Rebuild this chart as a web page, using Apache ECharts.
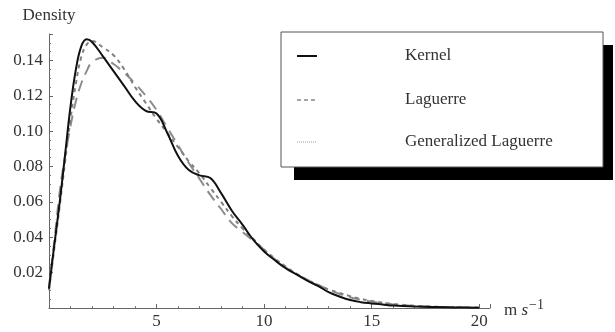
<!DOCTYPE html>
<html>
<head>
<meta charset="utf-8">
<script src="https://cdn.jsdelivr.net/npm/echarts@6/dist/echarts.min.js"></script>
<style>
  html, body { margin: 0; padding: 0; background: #fff; }
  #main { width: 615px; height: 332px; }
</style>
</head>
<body>
<div id="main"></div>
<script>
// wind speed (m/s) sample points, shared by all three curves
const speeds = [0, 0.25, 0.5, 0.75, 1, 1.25, 1.5, 1.75, 2, 2.5, 3, 3.5, 4, 4.5, 5, 5.5, 6, 6.5, 7, 7.5, 8, 8.5, 9, 9.5, 10, 10.5, 11, 11.5, 12, 12.5, 13, 13.5, 14, 14.5, 15, 15.5, 16, 17, 18, 19, 20]
// prettier-ignore
const kernel = [0.011, 0.036, 0.060, 0.087, 0.114, 0.135, 0.148, 0.152, 0.1505, 0.1425, 0.134, 0.1255, 0.117, 0.1115, 0.110, 0.099, 0.086, 0.078, 0.075, 0.0735, 0.065, 0.055, 0.047, 0.0385, 0.032, 0.027, 0.0225, 0.019, 0.0155, 0.0125, 0.009, 0.0065, 0.0045, 0.0033, 0.0026, 0.002, 0.0014, 0.0008, 0.0005, 0.0003, 0.0002]
// prettier-ignore
const laguerre = [0.012, 0.038, 0.066, 0.086, 0.103, 0.117, 0.127, 0.134, 0.139, 0.1415, 0.138, 0.133, 0.127, 0.120, 0.112, 0.102, 0.092, 0.082, 0.073, 0.064, 0.056, 0.048, 0.043, 0.038, 0.033, 0.0275, 0.023, 0.019, 0.016, 0.013, 0.0105, 0.008, 0.006, 0.0047, 0.0036, 0.0028, 0.002, 0.0011, 0.0006, 0.0003, 0.0001]
// prettier-ignore
const genLaguerre = [0.010, 0.034, 0.058, 0.083, 0.107, 0.127, 0.142, 0.149, 0.151, 0.1475, 0.143, 0.135, 0.125, 0.116, 0.107, 0.099, 0.091, 0.083, 0.076, 0.068, 0.060, 0.052, 0.045, 0.039, 0.033, 0.028, 0.0235, 0.0195, 0.016, 0.013, 0.0105, 0.0085, 0.0067, 0.0052, 0.004, 0.003, 0.0023, 0.0013, 0.0007, 0.0004, 0.0002]
const legendNames = ['Kernel', 'Laguerre', 'Generalized Laguerre']

const serif = 'Liberation Serif, Times New Roman, serif'
const pairs = (ys) => speeds.map((x, i) => [x, ys[i]])

const chart = echarts.init(document.getElementById('main'))

const option = {
  animation: false,
  grid: { left: 49, right: 125, top: 34, bottom: 24, containLabel: false },
  xAxis: {
    type: 'value',
    min: 0,
    max: 20.5,
    interval: 5,
    name: '{n|m }{s|s}{p|−1}',
    nameLocation: 'end',
    nameGap: 14,
    nameTextStyle: {
      rich: {
        n: { fontFamily: serif, fontSize: 17, color: '#333', padding: [6, 0, 0, 0] },
        s: { fontFamily: serif, fontSize: 17, fontStyle: 'italic', color: '#333', padding: [6, 0, 0, 0] },
        p: { fontFamily: serif, fontSize: 14, color: '#333', padding: [0, 0, 6, 1] }
      }
    },
    axisLine: { lineStyle: { color: '#666', width: 1 } },
    axisTick: { inside: true, length: 4, lineStyle: { color: '#666' } },
    minorTick: { show: true, splitNumber: 5, length: 2, lineStyle: { color: '#777' } },
    splitLine: { show: false },
    axisLabel: {
      fontFamily: serif,
      fontSize: 17,
      color: '#333',
      margin: 5,
      formatter: (v) => (v === 0 || v > 20 ? '' : String(v))
    }
  },
  yAxis: {
    type: 'value',
    min: 0,
    max: 0.155,
    interval: 0.02,
    name: 'Density',
    nameLocation: 'end',
    nameGap: 10,
    nameTextStyle: { fontFamily: serif, fontSize: 17, color: '#333', align: 'center' },
    axisLine: { show: true, lineStyle: { color: '#666', width: 1 } },
    axisTick: { show: true, inside: true, length: 4, lineStyle: { color: '#666' } },
    minorTick: { show: true, splitNumber: 4, length: 2, lineStyle: { color: '#777' } },
    splitLine: { show: false },
    axisLabel: {
      fontFamily: serif,
      fontSize: 17,
      color: '#333',
      margin: 6,
      formatter: (v) => (v === 0 || v > 0.145 ? '' : v.toFixed(2))
    }
  },
  series: [
    {
      name: legendNames[1],
      type: 'line',
      data: pairs(laguerre),
      smooth: 0.4,
      symbol: 'none',
      lineStyle: { color: '#8c8c8c', width: 2, type: [11, 7] },
      z: 2
    },
    {
      name: legendNames[2],
      type: 'line',
      data: pairs(genLaguerre),
      smooth: 0.4,
      symbol: 'none',
      lineStyle: { color: '#808080', width: 2, type: [4, 4] },
      z: 3
    },
    {
      name: legendNames[0],
      type: 'line',
      data: pairs(kernel),
      smooth: 0.4,
      symbol: 'none',
      lineStyle: { color: '#111', width: 2 },
      z: 4
    }
  ],
  graphic: [
    // legend box with hard drop shadow
    { type: 'rect', shape: { x: 294, y: 45, width: 319, height: 135 }, style: { fill: '#000' }, z: 10 },
    { type: 'rect', shape: { x: 281, y: 32, width: 322, height: 135 }, style: { fill: '#fff', stroke: '#555', lineWidth: 1 }, z: 11 },
    { type: 'line', shape: { x1: 297, y1: 56, x2: 317, y2: 56 }, style: { stroke: '#111', lineWidth: 2 }, z: 12 },
    { type: 'line', shape: { x1: 297, y1: 100, x2: 317, y2: 100 }, style: { stroke: '#888', lineWidth: 1.5, lineDash: [4, 3] }, z: 12 },
    { type: 'line', shape: { x1: 297, y1: 142, x2: 317, y2: 142 }, style: { stroke: '#999', lineWidth: 1, lineDash: [1, 1] }, z: 12 },
    { type: 'text', x: 405, y: 56, style: { text: legendNames[0], font: '17px ' + serif, fill: '#333', verticalAlign: 'middle' }, z: 12 },
    { type: 'text', x: 405, y: 100, style: { text: legendNames[1], font: '17px ' + serif, fill: '#333', verticalAlign: 'middle' }, z: 12 },
    { type: 'text', x: 405, y: 142, style: { text: legendNames[2], font: '17px ' + serif, fill: '#333', verticalAlign: 'middle' }, z: 12 }
  ]
}

chart.setOption(option)
</script>
</body>
</html>
